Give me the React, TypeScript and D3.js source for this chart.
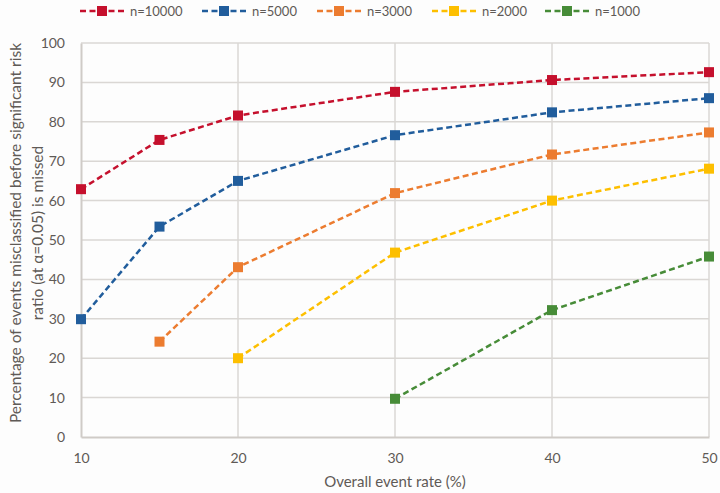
import React, { useEffect, useRef } from 'react'
import * as d3 from 'd3'

// event rates (%) on the x axis
const rates = [10, 15, 20, 30, 40, 50]
const xTicks = [10, 20, 30, 40, 50]
const yTicks = [0, 10, 20, 30, 40, 50, 60, 70, 80, 90, 100]

// percentage misclassified, per sample size (null = no point)
const n10000 = [62.9, 75.4, 81.6, 87.6, 90.6, 92.6]
const n5000 = [29.9, 53.4, 65.0, 76.6, 82.4, 86.0]
const n3000 = [null, 24.2, 43.1, 61.9, 71.7, 77.3]
const n2000 = [null, null, 20.0, 46.8, 60.0, 68.1]
const n1000 = [null, null, null, 9.7, 32.2, 45.8]

const seriesNames = ['n=10000', 'n=5000', 'n=3000', 'n=2000', 'n=1000']
const seriesValues = [n10000, n5000, n3000, n2000, n1000]
const seriesColors = ['#c5102d', '#215d9c', '#ec7c30', '#fdbf00', '#478c38']

const W = 720
const H = 493
const FONT = 'Lato, "Open Sans", sans-serif'

export default function App() {
  const svgRef = useRef<SVGSVGElement>(null)

  useEffect(() => {
    const svg = d3.select(svgRef.current)
    svg.selectAll('*').remove()

    const x = d3.scaleLinear().domain([10, 50]).range([81, 709])
    const y = d3.scaleLinear().domain([0, 100]).range([437, 43])

    svg.append('rect').attr('width', W).attr('height', H).attr('fill', '#fdfdfd')

    // grid
    const grid = svg.append('g')
    grid.selectAll('.hg')
      .data(yTicks.filter(d => d > 0))
      .join('line')
      .attr('x1', x(10)).attr('x2', x(50))
      .attr('y1', d => y(d)).attr('y2', d => y(d))
      .attr('stroke', '#dad7d4').attr('stroke-width', 1.5)
    grid.selectAll('.vg')
      .data(xTicks.filter(d => d > 10))
      .join('line')
      .attr('x1', d => x(d)).attr('x2', d => x(d))
      .attr('y1', y(0)).attr('y2', y(100))
      .attr('stroke', '#dad7d4').attr('stroke-width', 1.5)

    // axes
    const xAxis = svg.append('g')
      .attr('transform', `translate(0,${y(0)})`)
      .call(d3.axisBottom(x).tickValues(xTicks).tickSize(0).tickPadding(16))
    const yAxis = svg.append('g')
      .attr('transform', `translate(${x(10)},0)`)
      .call(d3.axisLeft(y).tickValues(yTicks).tickSize(0).tickPadding(16))
    ;[xAxis, yAxis].forEach(a => {
      a.select('.domain').attr('stroke', '#cfcbc7').attr('stroke-width', 2)
      a.selectAll('text')
        .attr('fill', '#5f5a56')
        .style('font-family', FONT)
        .style('font-size', '14px')
    })

    // series
    seriesValues.forEach((vals, si) => {
      const pts = rates.map((r, i) => [r, vals[i]] as [number, number | null])
        .filter(p => p[1] !== null) as [number, number][]
      const line = d3.line<[number, number]>().x(d => x(d[0])).y(d => y(d[1]))
      svg.append('path')
        .datum(pts)
        .attr('d', line)
        .attr('fill', 'none')
        .attr('stroke', seriesColors[si])
        .attr('stroke-width', 2.5)
        .attr('stroke-dasharray', '6,3.5')
      svg.append('g')
        .selectAll('rect')
        .data(pts)
        .join('rect')
        .attr('x', d => x(d[0]) - 5)
        .attr('y', d => y(d[1]) - 5)
        .attr('width', 10)
        .attr('height', 10)
        .attr('fill', seriesColors[si])
    })

    // legend
    const legendX = [80, 202, 317, 432, 545]
    const leg = svg.append('g').attr('transform', 'translate(0,11)')
    seriesNames.forEach((name, i) => {
      const g = leg.append('g').attr('transform', `translate(${legendX[i]},0)`)
      g.append('line').attr('x1', 0).attr('x2', 44).attr('y1', 0).attr('y2', 0)
        .attr('stroke', seriesColors[i]).attr('stroke-width', 2.5)
        .attr('stroke-dasharray', '6,3.5')
      g.append('rect').attr('x', 17).attr('y', -5).attr('width', 10).attr('height', 10)
        .attr('fill', seriesColors[i])
      g.append('text').attr('x', 50).attr('y', 5)
        .attr('fill', '#5f5a56')
        .style('font-family', FONT).style('font-size', '13px')
        .text(name)
    })

    // axis titles
    svg.append('text')
      .attr('x', 395).attr('y', 487)
      .attr('text-anchor', 'middle')
      .attr('fill', '#5f5a56')
      .style('font-family', FONT).style('font-size', '15px')
      .text('Overall event rate (%)')
    const yt = svg.append('text')
      .attr('transform', 'translate(21,233) rotate(-90)')
      .attr('text-anchor', 'middle')
      .attr('fill', '#5f5a56')
      .style('font-family', FONT).style('font-size', '15.5px')
    yt.append('tspan').attr('x', 0).attr('y', 0)
      .text('Percentage of events misclassified before significant risk')
    yt.append('tspan').attr('x', 0).attr('y', 22)
      .text('ratio (at \u03b1=0.05) is missed')
  }, [])

  return (
    <div style={{ position: 'absolute', left: 0, top: 0 }}>
      <svg ref={svgRef} width={W} height={H}></svg>
    </div>
  )
}
